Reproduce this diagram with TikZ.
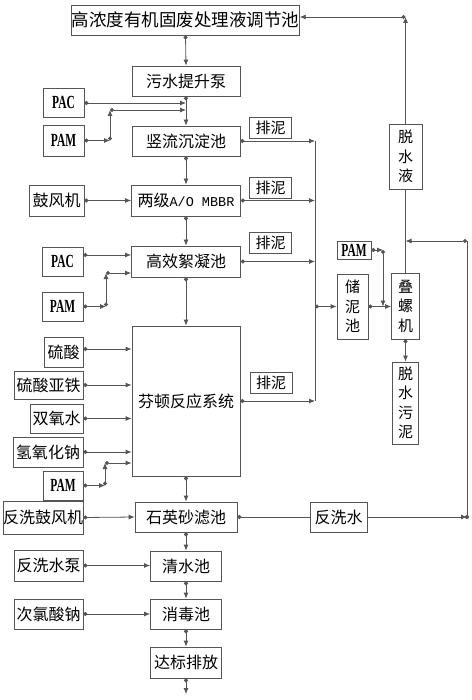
\documentclass[tikz,border=0pt]{standalone}
\usepackage{fontspec}
\usepackage{graphicx}
\setmainfont{Noto Sans CJK SC}
\newfontfamily\latf{Liberation Serif}
\newfontfamily\monof{Liberation Mono}
\usetikzlibrary{arrows.meta}
\definecolor{ln}{HTML}{555555}
\newcommand\pa[1]{{\latf\bfseries\fontsize{18.5}{18}\selectfont\scalebox{0.62}[1]{#1}}}
\begin{document}
\begin{tikzpicture}[x=1pt,y=-1pt,
 box/.style={draw=ln, line width=0.8pt, inner sep=0pt, font=\fontsize{16}{18}\selectfont},
 vbox/.style={box, align=center, font=\fontsize{15}{19.5}\selectfont},
 pn/.style={box, minimum width=42pt, minimum height=21pt, font=\fontsize{15}{17}\selectfont},
 conn/.style={draw=ln, line width=0.8pt, {Circle[length=4pt]}-{Latex[length=6pt,width=5pt]}},
 arr/.style={draw=ln, line width=0.8pt, -{Latex[length=6pt,width=5pt]}},
 lnk/.style={draw=ln, line width=0.8pt},
 dotst/.style={draw=ln, line width=0.8pt, {Circle[length=4pt]}-},
]
\useasboundingbox (0,0) rectangle (471,700);
% main column
\node[box, minimum width=227pt, minimum height=30pt, font=\fontsize{17.5}{20}\selectfont] (top) at (185.5,20) {高浓度有机固废处理液调节池};
\node[box, minimum width=108pt, minimum height=30pt] (pump) at (186,81) {污水提升泵};
\node[box, minimum width=108pt, minimum height=30pt] (sed) at (186,141) {竖流沉淀池};
\node[box, minimum width=109pt, minimum height=31pt] (mbbr) at (186,200.5) {两级{\monof\fontsize{13.5}{16}\selectfont A/O MBBR}};
\node[box, minimum width=109pt, minimum height=31pt] (floc) at (186,261.5) {高效絮凝池};
\node[box, minimum width=108pt, minimum height=150pt] (fenton) at (186,401) {芬顿反应系统};
\node[box, minimum width=102pt, minimum height=30pt] (sand) at (186,517) {石英砂滤池};
\node[box, minimum width=71pt, minimum height=30pt] (clear) at (186,566) {清水池};
\node[box, minimum width=71pt, minimum height=30pt] (dis) at (186,614) {消毒池};
\node[box, minimum width=71pt, minimum height=31pt] (out) at (186,662.5) {达标排放};
\coordinate (end) at (186,694);
% left inputs
\node[box, minimum width=41pt, minimum height=29pt] (pac1) at (63.5,102.5) {\pa{PAC}};
\node[box, minimum width=41pt, minimum height=31pt] (pam1) at (63.5,140.5) {\pa{PAM}};
\node[box, minimum width=55pt, minimum height=31pt] (blow) at (56.5,200.5) {鼓风机};
\node[box, minimum width=41pt, minimum height=29pt] (pac2) at (62.5,261.5) {\pa{PAC}};
\node[box, minimum width=41pt, minimum height=29pt] (pam2) at (62.5,306.5) {\pa{PAM}};
\node[box, minimum width=39pt, minimum height=30pt] (h2so4) at (63.5,352) {硫酸};
\node[box, minimum width=69pt, minimum height=28pt] (feso4) at (48.5,385) {硫酸亚铁};
\node[box, minimum width=53pt, minimum height=29pt] (h2o2) at (56.5,418.5) {双氧水};
\node[box, minimum width=70pt, minimum height=30pt] (naoh) at (48,452) {氢氧化钠};
\node[box, minimum width=40pt, minimum height=29pt] (pam3) at (63,485.5) {\pa{PAM}};
\node[box, minimum width=80pt, minimum height=33pt] (bwb) at (43,517.5) {反洗鼓风机};
\node[box, minimum width=69pt, minimum height=31pt] (bwp) at (48.5,565.5) {反洗水泵};
\node[box, minimum width=69pt, minimum height=30pt] (naclo) at (48.5,614) {次氯酸钠};
% sludge labels
\node[pn] (pn1) at (270.5,127.5) {排泥};
\node[pn] (pn2) at (270.5,188) {排泥};
\node[pn] (pn3) at (270.5,243) {排泥};
\node[pn] (pn4) at (271,382.5) {排泥};
% right side
\node[vbox, minimum width=33pt, minimum height=65pt] (dwl) at (405.5,156.5) {脱\\水\\液};
\node[box, minimum width=34pt, minimum height=18pt] (pamr) at (354,250) {\pa{PAM}};
\node[vbox, minimum width=31pt, minimum height=65pt] (store) at (352.5,306.5) {储\\泥\\池};
\node[vbox, minimum width=28pt, minimum height=66pt] (screw) at (405.5,306) {叠\\螺\\机};
\node[vbox, minimum width=26pt, minimum height=82pt] (dws) at (405.5,403) {脱\\水\\污\\泥};
\node[box, minimum width=57pt, minimum height=30pt] (bww) at (338.5,517) {反洗水};
% helper coordinates
\coordinate (k1a) at (110,140.5);
\coordinate (k1b) at (110,110);
\coordinate (k2a) at (106,306.5);
\coordinate (k2b) at (106,273);
\coordinate (k3a) at (105,485.5);
\coordinate (k3b) at (105,463);
\coordinate (vt) at (315,139);
\coordinate (kp) at (383,250);
\coordinate (kt) at (405.5,17);
\coordinate (kr1) at (467,517);
\coordinate (kr2) at (467,241);
% main flow
\draw[conn] (top.south) -- (pump.north);
\draw[conn] (pump.south) -- (sed.north);
\draw[conn] (sed.south) -- (mbbr.north);
\draw[conn] (mbbr.south) -- (floc.north);
\draw[conn] (floc.south) -- (fenton.north);
\draw[conn] (fenton.south) -- (sand.north);
\draw[conn] (sand.south) -- (clear.north);
\draw[conn] (clear.south) -- (dis.north);
\draw[conn] (dis.south) -- (out.north);
\draw[conn] (out.south) -- (end);
% dosing
\draw[conn] ([yshift=-0.5pt]pac1.east) -- ([yshift=-0.5pt]pac1.east -| pump.south);
\draw[conn] (pam1.east) -- (k1a);
\draw[conn] (k1a) -- (k1b);
\draw[conn] (k1b) -- (k1b -| pump.south);
\draw[conn] (blow.east) -- (mbbr.west);
\draw[conn] ([yshift=6.5pt]pac2.east) -- ([yshift=6.5pt]pac2.east -| floc.west);
\draw[conn] (pam2.east) -- (k2a);
\draw[conn] (k2a) -- (k2b);
\draw[conn] (k2b) -- (k2b -| floc.west);
\draw[conn] ([yshift=3pt]h2so4.east) -- ([yshift=3pt]h2so4.east -| fenton.west);
\draw[conn] (feso4.east) -- (feso4.east -| fenton.west);
\draw[conn] (h2o2.east) -- (h2o2.east -| fenton.west);
\draw[conn] (naoh.east) -- (naoh.east -| fenton.west);
\draw[conn] (pam3.east) -- (k3a);
\draw[conn] (k3a) -- (k3b);
\draw[conn] (k3b) -- (k3b -| fenton.west);
\draw[conn] (bwb.east) -- (sand.west);
\draw[conn] (bwp.east) -- (bwp.east -| clear.west);
\draw[conn] (naclo.east) -- (dis.west);
% sludge lines
\draw[conn] (sed.east) -- (sed.east -| vt);
\draw[conn] (mbbr.east) -- (mbbr.east -| vt);
\draw[conn] (floc.east) -- (floc.east -| vt);
\draw[conn] (fenton.east) -- (fenton.east -| vt);
\draw[lnk] (sed.east -| vt) -- (fenton.east -| vt);
\draw[conn] (store.west -| vt) -- (store.west);
\draw[conn] (store.east) -- (store.east -| screw.west);
\draw[conn] (pamr.east) -- (kp);
\draw[conn] (kp) -- (kp |- store.east);
\draw[conn] (screw.south) -- (dws.north);
\draw[lnk] (screw.north) -- (dwl.south);
\draw[arr] (dwl.north) -- (kt);
\draw[conn] (kt) -- (kt -| top.east);
% backwash
\draw[dotst] (sand.east) -- (bww.west);
\draw[arr] (bww.east) -- (kr1);
\fill[ln] (kr1) circle (2pt);
\draw[lnk] (kr1) -- (kr2);
\draw[conn] (kr2) -- (kr2 -| dwl.south);
\end{tikzpicture}
\end{document}
